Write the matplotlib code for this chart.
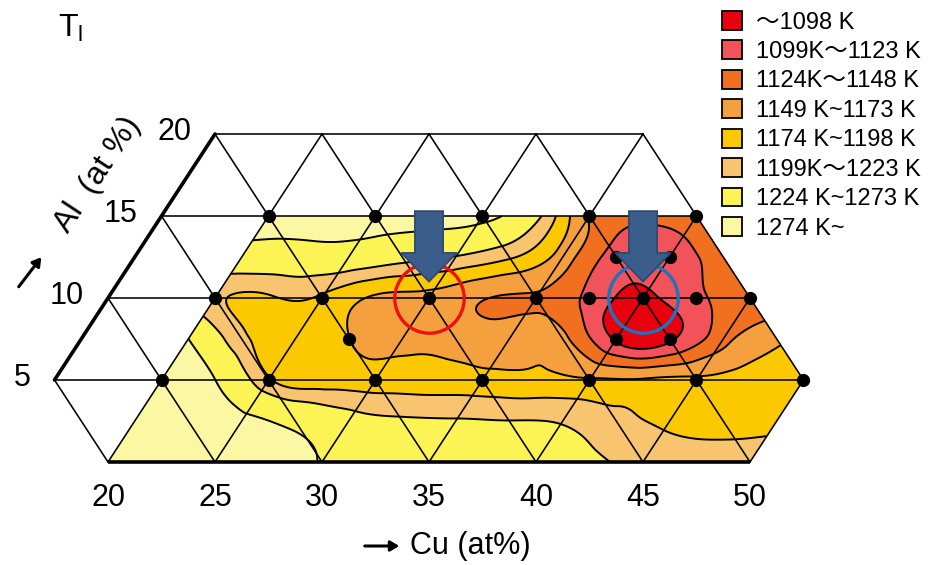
import numpy as np
import matplotlib
matplotlib.use("Agg")
import matplotlib.pyplot as plt
import matplotlib.tri as mtri
from matplotlib.patches import Patch, FancyArrow

plt.rcParams['font.family'] = ['Liberation Sans', 'Noto Sans CJK JP', 'DejaVu Sans']
plt.rcParams['mathtext.fontset'] = 'custom'
plt.rcParams['mathtext.rm'] = 'Liberation Sans'

# ---------------- data ----------------
# liquidus temperature (K) read on a 2.5 at% grid: rows of constant Al, Cu from 20 upward
cu_first = 20.0
cu_step = 2.5
al_rows = [0, 2.5, 5, 7.5, 10, 12.5, 15]
T_al0_0 = [1295, 1295, 1292, 1285, 1272, 1262, 1255, 1250, 1240, 1230, 1216, 1212, 1210]
T_al2_5 = [1295, 1292, 1284, 1262, 1238, 1228, 1226, 1224, 1221, 1205, 1195, 1192, 1195]
T_al5_0 = [1292, 1274, 1202, 1188, 1186, 1185, 1182, 1180, 1176, 1176, 1178, 1183, 1186]
T_al7_5 = [1274, 1205, 1190, 1174, 1168, 1165, 1162, 1155, 1094, 1094, 1140, 1168]
T_al10_0 = [1202, 1196, 1195, 1170, 1166, 1150, 1146, 1116, 1093, 1118, 1135]
T_al12_5 = [1252, 1252, 1250, 1235, 1222, 1202, 1162, 1113, 1112, 1134]
T_al15_0 = [1292, 1295, 1295, 1292, 1288, 1232, 1145, 1129, 1132]
T_rows = [T_al0_0, T_al2_5, T_al5_0, T_al7_5, T_al10_0, T_al12_5, T_al15_0]

band_bounds = [1098.5, 1123.5, 1148.5, 1173.5, 1198.5, 1223.5, 1273.5]
band_labels = ["\u301c1098 K", "1099K\u301c1123 K", "1124K\u301c1148 K", "1149 K~1173 K",
               "1174 K~1198 K", "1199K\u301c1223 K", "1224 K~1273 K", "1274 K~"]
band_colors = ["#e8000e", "#f2535a", "#f07020", "#f5a03e", "#fcc800", "#f8c470", "#fbf454", "#fbf7a2"]

# measured alloy compositions (black dots)
pt_cu = [20, 25, 30, 35, 40, 20, 25, 30, 35, 37.5, 40, 42.5, 45, 37.5, 40, 40, 42.5, 27.5,
         20, 25, 30, 35, 40, 45, 50]
pt_al = [15, 15, 15, 15, 15, 10, 10, 10, 10, 10, 10, 10, 10, 12.5, 12.5, 7.5, 7.5, 7.5,
         5, 5, 5, 5, 5, 5, 5]

# highlighted alloys
mark_cu = [30, 40]
mark_al = [10, 10]
mark_colors = ["#ee1111", "#1f72bd"]

cu_ticks = [20, 25, 30, 35, 40, 45, 50]
al_ticks = [5, 10, 15, 20]


def proj(cu, al):
    cu = np.asarray(cu, float)
    al = np.asarray(al, float)
    return cu + al / 2.0, al


fig = plt.figure(figsize=(9.36, 5.65), dpi=100)
ax = fig.add_axes([0, 0, 1, 1])
ax.set_xlim(14.953, 58.692)
ax.set_ylim(-6.280, 28.171)
ax.axis('off')

# ---------------- contour field ----------------
cu_nodes, al_nodes, t_nodes = [], [], []
for a, row in zip(al_rows, T_rows):
    for i, t in enumerate(row):
        cu_nodes.append(cu_first + i * cu_step)
        al_nodes.append(a)
        t_nodes.append(t)
X, Y = proj(cu_nodes, al_nodes)
Z = np.array(t_nodes, float)
tri = mtri.Triangulation(X, Y)
interp = mtri.CubicTriInterpolator(tri, Z, kind='min_E')
refiner = mtri.UniformTriRefiner(tri)
tri_r, z_r = refiner.refine_field(Z, triinterpolator=interp, subdiv=4)
levels = [900] + band_bounds + [1500]
ax.tricontourf(tri_r, z_r, levels=levels, colors=band_colors, zorder=1)
ax.tricontour(tri_r, z_r, levels=band_bounds, colors='k', linewidths=1.4, zorder=2)

# ---------------- triangular grid ----------------
glw = 1.15
for a in [5, 10, 15, 20]:
    x, y = proj([15, 55 - a], [a, a])
    ax.plot(x, y, color='k', lw=glw, zorder=3)
for c in range(20, 55, 5):
    x, y = proj([c, c], [0, min(20, 55 - c)])
    ax.plot(x, y, color='k', lw=glw, zorder=3)
for s in range(20, 60, 5):
    a_lo = max(0, s - 50)
    a_hi = min(20, s - 15)
    x, y = proj([s - a_lo, s - a_hi], [a_lo, a_hi])
    ax.plot(x, y, color='k', lw=glw, zorder=3)
# thick axes
x, y = proj([20, 50], [0, 0])
ax.plot(x, y, color='k', lw=2.6, zorder=3, solid_capstyle='butt')
x, y = proj([15, 15], [5, 20])
ax.plot(x, y, color='k', lw=2.6, zorder=3, solid_capstyle='round')

# dots
px, py = proj(pt_cu, pt_al)
ax.plot(px, py, 'o', color='k', ms=8.5, zorder=5, ls='none')

# highlight circles and arrows
for c, a, col in zip(mark_cu, mark_al, mark_colors):
    mx, my = proj(c, a)
    ax.plot([mx], [my], 'o', ms=50, mfc='none', mec=col, mew=2.4, zorder=6)
    arr = FancyArrow(float(mx), 15.3, 0, -(15.3 - (a + 1.0)), width=1.32, head_width=2.6,
                     head_length=1.75, length_includes_head=True,
                     fc='#3b5d8c', ec='#2c4870', lw=1.2, zorder=7)
    ax.add_patch(arr)

# ---------------- tick labels ----------------
for c in cu_ticks:
    ax.annotate(str(c), xy=proj(c, 0), xytext=(0, -36), textcoords='offset pixels',
                ha='center', va='center', fontsize=22)
for a in al_ticks:
    ax.annotate(str(a), xy=proj(15, a), xytext=(-24, 2), textcoords='offset pixels',
                ha='right', va='center', fontsize=22)

# axis titles
fig.text(410 / 936, 1 - 546 / 565, "Cu (at%)", ha='left', va='center', fontsize=22)
ax.annotate("", xy=(402, 565 - 546), xycoords='figure pixels', xytext=(362, 565 - 546),
            textcoords='figure pixels',
            arrowprops=dict(arrowstyle='-|>,head_length=0.5,head_width=0.3', color='k', lw=2.2))
fig.text(98 / 936, 1 - 175 / 565, "Al  (at %)", ha='center', va='center', fontsize=23,
         rotation=56.6, rotation_mode='anchor')
ax.annotate("", xy=(43, 565 - 255), xycoords='figure pixels', xytext=(17, 565 - 289),
            textcoords='figure pixels',
            arrowprops=dict(arrowstyle='-|>,head_length=0.5,head_width=0.3', color='k', lw=2.2))
fig.text(58 / 936, 1 - 28 / 565, r"$\mathregular{T_l}$", ha='left', va='center', fontsize=23)

# ---------------- legend ----------------
handles = [Patch(facecolor=c, edgecolor='k', lw=1.3) for c in band_colors]
fig.legend(handles, band_labels, loc='upper left', bbox_to_anchor=(722 / 936, 1 - 11 / 565),
           frameon=False, fontsize=17, handlelength=0.85, handleheight=0.85,
           handletextpad=0.6, labelspacing=0.29, borderaxespad=0, borderpad=0)

fig.savefig("out.png", dpi=100)
